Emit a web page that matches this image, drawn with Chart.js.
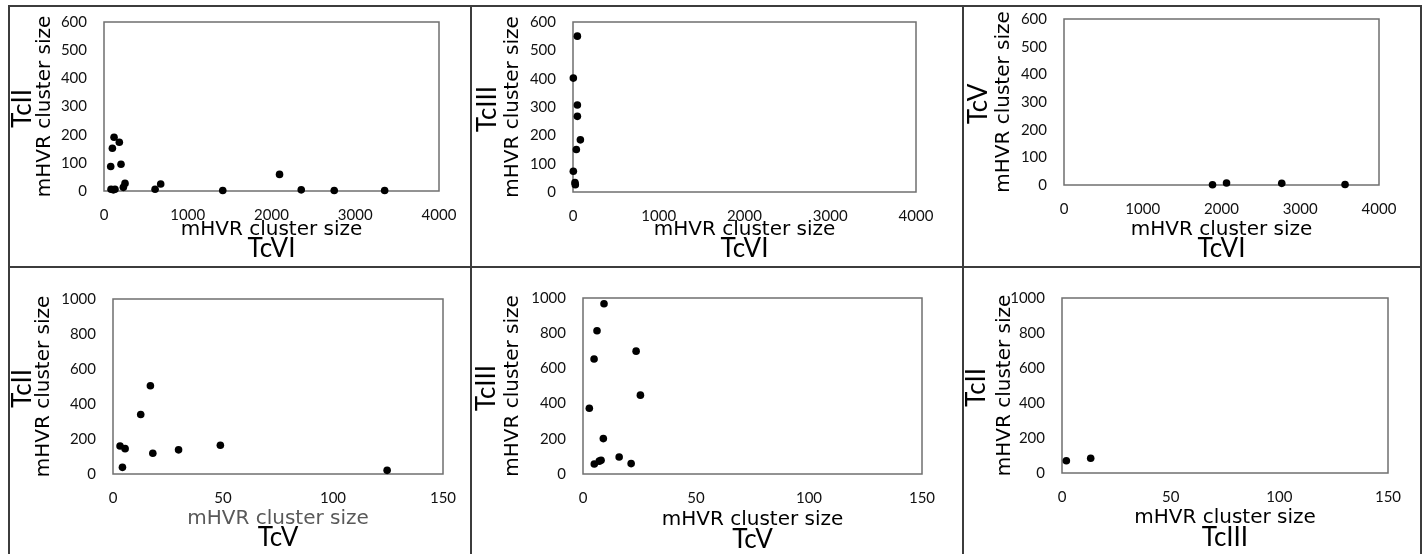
<!DOCTYPE html>
<html>
<head>
<meta charset="utf-8">
<script src="https://cdn.jsdelivr.net/npm/chart.js@4.4.1/dist/chart.umd.min.js"></script>
<style>
  body { margin: 0; background: #fff; }
  #page { position: relative; width: 1424px; height: 554px; overflow: hidden; background: #fff; }
  #page canvas { position: absolute; }
  .line { position: absolute; background: #3c3c3c; }
</style>
</head>
<body>
<div id="page"></div>
<script>
// mHVR cluster sizes
// TcVI (x) vs TcII (y)
const tcVI_tcII_x = [80, 100, 120, 183, 203, 84, 112, 131, 231, 251, 610, 677, 1418, 2096, 2355, 2749, 3351];
const tcVI_tcII_y = [87, 152, 191, 173, 95, 6, 4, 6, 13, 27, 6, 25, 2, 59, 4, 2, 2];
// TcVI (x) vs TcIII (y)
const tcVI_tcIII_x = [51, 4, 51, 51, 86, 39, 4, 23, 27];
const tcVI_tcIII_y = [550, 402, 307, 267, 184, 150, 73, 33, 26];
// TcVI (x) vs TcV (y)
const tcVI_tcV_x = [1886, 2064, 2765, 3569];
const tcVI_tcV_y = [1, 7, 6, 2];
// TcV (x) vs TcII (y)
const tcV_tcII_x = [3.2, 5.5, 4.3, 12.6, 17, 18.1, 29.8, 48.8, 124.6];
const tcV_tcII_y = [160, 145, 38, 340, 504, 119, 138, 164, 21];
// TcV (x) vs TcIII (y)
const tcV_tcIII_x = [9.3, 6.2, 4.9, 23.5, 25.4, 2.8, 9.0, 16.0, 7.2, 8.0, 5.0, 21.3];
const tcV_tcIII_y = [967, 814, 653, 698, 448, 374, 201, 97, 73, 78, 57, 59];
// TcIII (x) vs TcII (y)
const tcIII_tcII_x = [2.0, 13.2];
const tcIII_tcII_y = [70, 84];

const axisTitle = 'mHVR cluster size';

Chart.defaults.font.family = 'Lato, sans-serif';
Chart.defaults.color = '#000';

// cell = [left, top, width, height], plot = [left, top, right, bottom] in page pixels
const panels = [
  { xs: tcVI_tcII_x, ys: tcVI_tcII_y, xName: 'TcVI', yName: 'TcII', xMax: 4000, xStep: 1000, yMax: 600, yStep: 100,
    cell: [8, 6, 463, 261], plot: [104, 22, 439, 191], xTitleOff: 37, yTitleOff: 37, yNameOff: 15, xNameOff: 18 },
  { xs: tcVI_tcIII_x, ys: tcVI_tcIII_y, xName: 'TcVI', yName: 'TcIII', xMax: 4000, xStep: 1000, yMax: 600, yStep: 100,
    cell: [471, 6, 492, 261], plot: [573, 22, 916, 192], xTitleOff: 37, yTitleOff: 42, yNameOff: 17, xNameOff: 18 },
  { xs: tcVI_tcV_x, ys: tcVI_tcV_y, xName: 'TcVI', yName: 'TcV', xMax: 4000, xStep: 1000, yMax: 600, yStep: 100,
    cell: [963, 6, 458, 261], plot: [1064, 19, 1379, 185], xTitleOff: 37, yTitleOff: 41, yNameOff: 16, xNameOff: 18 },
  { xs: tcV_tcII_x, ys: tcV_tcII_y, xName: 'TcV', yName: 'TcII', xMax: 150, xStep: 50, yMax: 1000, yStep: 200,
    cell: [8, 267, 463, 287], plot: [113, 299, 443, 474], xTitleOff: 35, yTitleOff: 36, yNameOff: 15, xNameOff: 16, xTitleColor: '#595959' },
  { xs: tcV_tcIII_x, ys: tcV_tcIII_y, xName: 'TcV', yName: 'TcIII', xMax: 150, xStep: 50, yMax: 1000, yStep: 200,
    cell: [471, 267, 492, 287], plot: [583, 298, 922, 474], xTitleOff: 34, yTitleOff: 42, yNameOff: 16, xNameOff: 14 },
  { xs: tcIII_tcII_x, ys: tcIII_tcII_y, xName: 'TcIII', yName: 'TcII', xMax: 150, xStep: 50, yMax: 1000, yStep: 200,
    cell: [963, 267, 458, 287], plot: [1062, 298, 1388, 473], xTitleOff: 36, yTitleOff: 42, yNameOff: 14, xNameOff: 16 }
];

// grey box around the plot area
const frame = {
  id: 'frame',
  beforeDatasetsDraw(chart) {
    const { ctx, chartArea: a } = chart;
    ctx.save();
    ctx.strokeStyle = '#6f6f6f';
    ctx.lineWidth = 1.5;
    ctx.strokeRect(a.left, a.top, a.right - a.left, a.bottom - a.top);
    ctx.restore();
  }
};

// the big genotype names under / beside the axis titles
const bigLabels = {
  id: 'bigLabels',
  afterDraw(chart, args, opts) {
    const { ctx, chartArea: a, height } = chart;
    ctx.save();
    ctx.font = '26px Lato';
    ctx.fillStyle = '#000';
    ctx.textAlign = 'center';
    ctx.textBaseline = 'middle';
    ctx.fillText(opts.xName, (a.left + a.right) / 2, height - opts.xNameOff);
    ctx.translate(opts.yNameOff, (a.top + a.bottom) / 2 + 2);
    ctx.rotate(-Math.PI / 2);
    ctx.fillText(opts.yName, 0, 0);
    ctx.restore();
  }
};

const page = document.getElementById('page');

panels.forEach(function (p) {
  const [cx, cy, cw, ch] = p.cell;
  const [pl, pt, pr, pb] = p.plot;
  const canvas = document.createElement('canvas');
  canvas.width = cw;
  canvas.height = ch;
  canvas.style.left = cx + 'px';
  canvas.style.top = cy + 'px';
  canvas.style.width = cw + 'px';
  canvas.style.height = ch + 'px';
  page.appendChild(canvas);

  const yAxisW = pl - cx;
  const xAxisH = cy + ch - pb;

  new Chart(canvas.getContext('2d'), {
    type: 'scatter',
    data: {
      datasets: [{
        data: p.xs.map((v, i) => ({ x: v, y: p.ys[i] })),
        backgroundColor: '#000',
        borderColor: '#000',
        pointRadius: 3.8,
        borderWidth: 0,
        clip: false
      }]
    },
    options: {
      responsive: false,
      animation: false,
      devicePixelRatio: 1,
      layout: { padding: { left: 0, top: pt - cy, right: cx + cw - pr, bottom: 0 } },
      plugins: {
        legend: { display: false },
        tooltip: { enabled: false },
        bigLabels: { xName: p.xName, yName: p.yName, xNameOff: p.xNameOff, yNameOff: p.yNameOff }
      },
      scales: {
        x: {
          type: 'linear',
          min: 0,
          max: p.xMax,
          grid: { display: false, drawTicks: false },
          border: { display: false },
          ticks: { stepSize: p.xStep, padding: 15, maxRotation: 0, autoSkip: false, font: { size: 15 }, color: '#111', callback: v => String(v) },
          title: { display: true, text: axisTitle, font: { family: '"DejaVu Sans"', size: 20 }, color: p.xTitleColor || '#000', padding: { top: 0, bottom: p.xTitleOff - 12 } },
          afterFit: s => { s.height = xAxisH; s.paddingLeft = 0; s.paddingRight = 0; }
        },
        y: {
          type: 'linear',
          min: 0,
          max: p.yMax,
          grid: { display: false, drawTicks: false },
          border: { display: false },
          ticks: { stepSize: p.yStep, padding: 17, autoSkip: false, font: { size: 15 }, color: '#111', callback: v => String(v) },
          title: { display: true, text: axisTitle, font: { family: '"DejaVu Sans"', size: 20 }, color: '#000', padding: { top: p.yTitleOff - 12, bottom: 0 } },
          afterFit: s => { s.width = yAxisW; s.paddingTop = 0; s.paddingBottom = 0; }
        }
      }
    },
    plugins: [frame, bigLabels]
  });
});

// cell borders of the figure grid
[[8, 6, 2, 548], [470, 6, 2, 548], [962, 6, 2, 548], [1420, 6, 2, 548],
 [8, 5, 1414, 2], [8, 266, 1414, 2]].forEach(function (r) {
  const d = document.createElement('div');
  d.className = 'line';
  d.style.left = r[0] + 'px';
  d.style.top = r[1] + 'px';
  d.style.width = r[2] + 'px';
  d.style.height = r[3] + 'px';
  page.appendChild(d);
});
</script>
</body>
</html>
